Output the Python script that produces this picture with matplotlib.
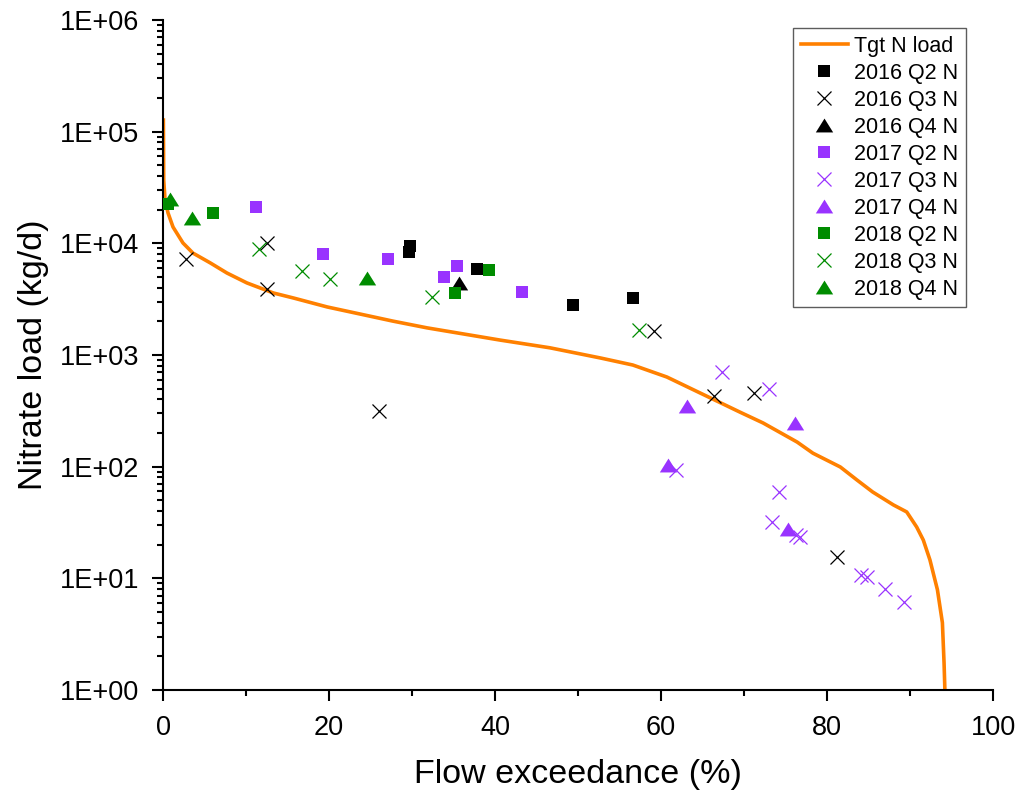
import matplotlib
matplotlib.use("Agg")
import matplotlib.pyplot as plt
import numpy as np
from matplotlib.ticker import FuncFormatter, LogLocator, MultipleLocator

# target load curve (flow exceedance %, nitrate load kg/d)
curve_x = [0.04, 0.08, 0.24, 0.6, 1.2, 2.4, 3.6, 5.7, 7.7, 10.1, 13.3, 15.7, 19.8, 23.7,
           27.7, 31.8, 40.6, 46.6, 52.7, 56.6, 60.7, 64.7, 69.5, 72.3, 76.4, 78.3, 81.6,
           83.6, 85.5, 88.0, 89.6, 90.8, 91.6, 92.4, 93.3, 93.9, 94.1, 94.2]
curve_y = [127000, 36900, 24400, 18700, 14000, 10070, 8180, 6670, 5420, 4420, 3590, 3240,
           2690, 2330, 2010, 1750, 1360, 1160, 940, 813, 635, 457, 308, 246, 166, 132, 99.3,
           76.0, 59.3, 45.4, 39.3, 28.8, 22.0, 14.6, 7.9, 4.0, 1.75, 1.0]

# observed loads
q2_2016_x = [29.8, 29.6, 37.8, 49.4, 56.6]
q2_2016_y = [9460, 8360, 5890, 2800, 3240]
q3_2016_x = [2.8, 12.5, 12.5, 26.0, 59.2, 66.4, 71.2, 81.2]
q3_2016_y = [7230, 10070, 3900, 315, 1640, 432, 460, 15.5]
q4_2016_x = [35.7]
q4_2016_y = [4420]

q2_2017_x = [11.2, 19.3, 27.1, 33.9, 35.4, 43.3]
q2_2017_y = [21100, 8020, 7240, 4990, 6270, 3660]
q3_2017_x = [61.8, 67.3, 73.0, 74.2, 73.4, 76.3, 76.8, 84.1, 84.8, 87.0, 89.3]
q3_2017_y = [93, 704, 497, 59, 32, 24.5, 23.4, 10.7, 10.3, 8.0, 6.1]
q4_2017_x = [63.1, 76.1, 60.8, 75.3]
q4_2017_y = [349, 246, 103, 27.7]

q2_2018_x = [0.6, 6.0, 35.2, 39.3]
q2_2018_y = [22500, 18700, 3590, 5770]
q3_2018_x = [11.6, 16.8, 20.1, 32.4, 57.3]
q3_2018_y = [8890, 5650, 4790, 3300, 1675]
q4_2018_x = [0.8, 3.5, 24.6]
q4_2018_y = [24900, 16900, 4900]

ORANGE = "#FF8000"
BLACK = "#000000"
PURPLE = "#9933FF"
GREEN = "#008C00"

tri = [(0, 0.8), (-1, -0.8), (1, -0.8)]

plt.rcParams["font.family"] = ["Liberation Sans", "DejaVu Sans"]

fig = plt.figure(figsize=(10.21, 7.97), dpi=100)
ax = fig.add_axes([0.1597, 0.1343, 0.8129, 0.8406])

ax.plot(curve_x, curve_y, color=ORANGE, lw=2.6, label="Tgt N load", zorder=2)

series = [
    (q2_2016_x, q2_2016_y, "s", BLACK, "2016 Q2 N"),
    (q3_2016_x, q3_2016_y, "x", BLACK, "2016 Q3 N"),
    (q4_2016_x, q4_2016_y, tri, BLACK, "2016 Q4 N"),
    (q2_2017_x, q2_2017_y, "s", PURPLE, "2017 Q2 N"),
    (q3_2017_x, q3_2017_y, "x", PURPLE, "2017 Q3 N"),
    (q4_2017_x, q4_2017_y, tri, PURPLE, "2017 Q4 N"),
    (q2_2018_x, q2_2018_y, "s", GREEN, "2018 Q2 N"),
    (q3_2018_x, q3_2018_y, "x", GREEN, "2018 Q3 N"),
    (q4_2018_x, q4_2018_y, tri, GREEN, "2018 Q4 N"),
]
for xs, ys, mk, col, lab in series:
    if mk == "x":
        ax.plot(xs, ys, ls="none", marker="x", ms=10.5, mew=0.9, color=col, label=lab, zorder=3)
    elif mk == "s":
        ax.plot(xs, ys, ls="none", marker="s", ms=9.3, mew=0, color=col, label=lab, zorder=3)
    else:
        ax.plot(xs, ys, ls="none", marker=mk, ms=12.5, mew=0, color=col, label=lab, zorder=3)

ax.set_yscale("log")
ax.set_xlim(0, 100)
ax.set_ylim(1, 1e6)
ax.xaxis.set_major_locator(MultipleLocator(20))
ax.xaxis.set_minor_locator(MultipleLocator(10))
ax.yaxis.set_major_locator(LogLocator(base=10, numticks=10))
ax.yaxis.set_minor_locator(LogLocator(base=10, subs=np.arange(2, 10), numticks=20))
ax.yaxis.set_major_formatter(FuncFormatter(lambda v, p: "1E+%02d" % int(round(np.log10(v)))))

for s in ["top", "right"]:
    ax.spines[s].set_visible(False)
for s in ["left", "bottom"]:
    ax.spines[s].set_linewidth(1.5)

ax.tick_params(which="major", direction="out", length=8, width=1.5, labelsize=19.5)
ax.tick_params(which="minor", direction="out", length=4, width=1.5)
ax.tick_params(axis="x", which="major", pad=10)
ax.tick_params(axis="y", which="major", pad=9)

ax.set_xlabel("Flow exceedance (%)", fontsize=24.5, labelpad=13)
ax.set_ylabel("Nitrate load (kg/d)", fontsize=24.5, labelpad=8)

leg = ax.legend(loc="upper right", bbox_to_anchor=(0.9675, 0.988), borderaxespad=0,
                fontsize=15.5, frameon=True, fancybox=False, edgecolor="#333333",
                handlelength=2.2, handletextpad=0.3, labelspacing=0.28, borderpad=0.35,
                numpoints=1)
leg.get_frame().set_linewidth(1.0)

fig.savefig("out.png", dpi=100)
